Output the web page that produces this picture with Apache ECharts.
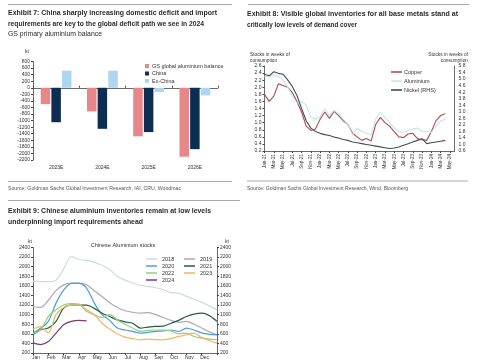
<!DOCTYPE html>
<html><head><meta charset="utf-8">
<script src="https://cdn.jsdelivr.net/npm/echarts@6/dist/echarts.min.js"></script>
<style>html,body{margin:0;padding:0;background:#fff}#c{width:485px;height:360px}</style>
</head><body><div id="c"></div>
<script>
// ---------- Exhibit 7 data ----------
const balCats = ['2023E', '2024E', '2025E', '2026E'];
const gsBalance = [-500, -720, -1480, -2100];
const chinaBalance = [-1050, -1250, -1350, -1870];
const exChinaBalance = [520, 520, -130, -230];

// ---------- Exhibit 8 data ----------
const invMonths = ['Jan-21','Feb-21','Mar-21','Apr-21','May-21','Jun-21','Jul-21','Aug-21','Sep-21','Oct-21','Nov-21','Dec-21',
  'Jan-22','Feb-22','Mar-22','Apr-22','May-22','Jun-22','Jul-22','Aug-22','Sep-22','Oct-22','Nov-22','Dec-22',
  'Jan-23','Feb-23','Mar-23','Apr-23','May-23','Jun-23','Jul-23','Aug-23','Sep-23','Oct-23','Nov-23','Dec-23',
  'Jan-24','Feb-24','Mar-24','Apr-24','May-24','Jun-24'];
const copper = [1.8,1.6,1.75,2.1,2.05,2.0,1.85,1.6,1.3,0.9,0.78,0.82,
  1.1,1.3,1.12,1.32,1.2,1.05,0.95,0.7,0.6,0.5,0.55,0.48,
  0.95,1.15,1.0,0.9,0.75,0.6,0.58,0.68,0.7,0.55,0.52,0.5,
  0.75,1.05,1.2,1.25];
const aluminium = [2.3,2.3,2.35,2.3,2.2,2.0,1.75,1.55,1.6,1.5,1.15,1.1,
  1.15,1.4,1.2,1.35,1.25,1.1,0.95,0.65,0.85,0.75,0.7,0.65,
  1.1,1.3,1.15,1.0,0.85,0.75,0.72,0.78,0.82,0.85,0.75,0.75,
  0.72,0.9,1.05,1.1];
const nickel = [5.3,5.2,5.45,5.35,5.3,4.95,4.55,4.0,3.2,2.45,2.0,1.8,
  1.68,1.6,1.55,1.45,1.4,1.3,1.25,1.15,1.1,1.05,1.0,0.95,
  0.9,0.85,0.8,0.75,0.78,0.85,0.95,1.05,1.15,1.25,1.35,1.05,
  1.1,1.15,1.2,1.25];

// ---------- Exhibit 9 data ----------
const monthNames = ['Jan','Feb','Mar','Apr','May','Jun','Jul','Aug','Sep','Oct','Nov','Dec'];
const stockPos = [0,0.5,1,1.5,2,2.5,3,3.5,4,4.5,5,5.5,6,6.5,7,7.5,8,8.5,9,9.5,10,10.5,11,11.5,12];
const s2018 = [1700,1690,1690,1720,1950,2210,2150,2130,2090,2030,1940,1800,1720,1660,1610,1590,1560,1520,1460,1450,1380,1320,1260,1180,1110];
const s2019 = [1170,1150,1300,1500,1620,1660,1660,1620,1500,1380,1250,1150,1080,1050,1030,1040,1000,940,880,840,860,800,720,640,580];
const s2020 = [610,720,860,1240,1510,1650,1650,1550,1240,1000,880,720,680,650,615,630,650,660,680,650,720,680,620,590,580];
const s2021 = [580,685,720,860,1135,1200,1200,1200,1130,1030,960,890,850,820,720,740,755,760,820,880,960,1010,1030,980,860];
const s2022 = [600,690,960,1100,1200,1230,1220,1065,1000,940,1000,890,800,720,650,670,680,680,660,600,615,545,510,490,480];
const s2023 = [700,750,620,1000,1150,1200,1200,1100,1000,820,700,600,530,500,475,490,480,475,500,545,580,615,520,460,400];
const s2024 = [410,375,440,615,790,860,880,870];
const yearNames = ['2018','2019','2020','2021','2022','2023','2024'];
const yearColors = ['#c9dde8','#b3a6ba','#4a9fd6','#1f5e4a','#93d07c','#f4b55e','#7c3a70'];

const FF = '"Liberation Sans", Arial, sans-serif';
const cv = document.createElement('canvas').getContext('2d');
function fitText(txt, x, y, size, weight, width, fill) {
  cv.font = weight + ' ' + size + 'px ' + FF;
  const w = cv.measureText(txt).width;
  return {type: 'text', x: x, y: y, scaleX: width / w, silent: true,
    style: {text: txt, fontSize: size, fontWeight: weight, fontFamily: FF, fill: fill, verticalAlign: 'middle'}};
}
function plainText(txt, x, y, size, fill, align) {
  return {type: 'text', x: x, y: y, silent: true,
    style: {text: txt, fontSize: size, fontFamily: FF, fill: fill, align: align || 'left', verticalAlign: 'middle', lineHeight: size + 1}};
}
function rule(x1, y, x2) {
  return {type: 'line', silent: true, shape: {x1: x1, y1: y + 0.5, x2: x2, y2: y + 0.5}, style: {stroke: '#a8a8a8', lineWidth: 1}};
}
const plainNum = v => String(Math.round(v));

const axisTxt = {fontSize: 5, color: '#333', fontFamily: FF};
const axLine = {show: true, lineStyle: {color: '#444', width: 0.8}};

const chart = echarts.init(document.getElementById('c'), null, {renderer: 'canvas'});

const ex9Series = [s2018, s2019, s2020, s2021, s2022, s2023, s2024].map((arr, i) => ({
  name: yearNames[i], type: 'line', xAxisIndex: 3, yAxisIndex: 3, symbol: 'none', smooth: 0.3,
  lineStyle: {width: 1.2, color: yearColors[i]}, itemStyle: {color: yearColors[i]},
  data: arr.map((v, j) => [stockPos[j], v])
}));

chart.setOption({
  animation: false,
  backgroundColor: '#fff',
  textStyle: {fontFamily: FF},
  grid: [
    {left: 33, top: 61.5, width: 185, height: 98.5},
    {left: 264.5, top: 66, width: 190, height: 85},
    {left: 33, top: 247.5, width: 184, height: 106}
  ],
  legend: [
    {orient: 'vertical', left: 140, top: 58, itemWidth: 4, itemHeight: 4, itemGap: 1.5, icon: 'rect',
      textStyle: {fontSize: 5.5, color: '#333', lineHeight: 6, padding: [0, 0, 0, -2]},
      data: ['GS global aluminium balance', 'China', 'Ex-China']},
    {orient: 'vertical', left: 386, top: 64, itemWidth: 11, itemHeight: 1.6, itemGap: 3, icon: 'rect',
      textStyle: {fontSize: 5.5, color: '#333', lineHeight: 6, padding: [0, 0, 0, -3]},
      data: ['Copper', 'Aluminium', 'Nickel (RHS)']},
    {orient: 'vertical', left: 141, top: 251, itemWidth: 11, itemHeight: 1.5, itemGap: 1, icon: 'rect',
      textStyle: {fontSize: 5.5, color: '#333', lineHeight: 6},
      data: ['2018', '2020', '2022', '2024']},
    {orient: 'vertical', left: 179, top: 251, itemWidth: 11, itemHeight: 1.5, itemGap: 1, icon: 'rect',
      textStyle: {fontSize: 5.5, color: '#333', lineHeight: 6},
      data: ['2019', '2021', '2023']}
  ],
  xAxis: [
    {gridIndex: 0, type: 'category', data: balCats, position: 'bottom',
      axisLine: {show: false, onZero: false}, axisTick: {show: false},
      axisLabel: Object.assign({margin: 5}, axisTxt)},
    {gridIndex: 0, type: 'category', data: balCats,
      axisLine: {show: true, onZero: true, lineStyle: {color: '#444', width: 0.8}},
      axisTick: {show: true, length: 2, lineStyle: {color: '#444'}}, axisLabel: {show: false}},
    {gridIndex: 1, type: 'category', data: invMonths, boundaryGap: false,
      axisLine: axLine, axisTick: {show: true, interval: 1, length: 2, lineStyle: {color: '#444'}},
      axisLabel: Object.assign({interval: 1, rotate: 90, margin: 3}, axisTxt, {fontSize: 4.6})},
    {gridIndex: 2, type: 'value', min: 0, max: 12, interval: 1,
      axisLine: axLine, axisTick: {show: true, length: 2, lineStyle: {color: '#444'}}, splitLine: {show: false},
      axisLabel: Object.assign({margin: 2, padding: [0, 0, 0, 6], formatter: v => monthNames[v] || ''}, axisTxt)}
  ],
  yAxis: [
    {gridIndex: 0, type: 'value', min: -2200, max: 800, interval: 200,
      axisLine: axLine, axisTick: {show: true, length: 2, lineStyle: {color: '#444'}}, splitLine: {show: false},
      axisLabel: Object.assign({margin: 3, formatter: plainNum}, axisTxt)},
    {gridIndex: 1, type: 'value', min: 0.2, max: 2.6, interval: 0.2,
      axisLine: axLine, axisTick: {show: true, length: 2, lineStyle: {color: '#444'}}, splitLine: {show: false},
      axisLabel: Object.assign({margin: 3, formatter: v => v.toFixed(1)}, axisTxt)},
    {gridIndex: 1, type: 'value', position: 'right', min: 0.6, max: 5.8, interval: 0.2,
      axisLine: axLine, axisTick: {show: false}, splitLine: {show: false},
      axisLabel: Object.assign({margin: 4, formatter: v => {
        const k = Math.round((v - 0.6) / 0.2); return k % 2 === 0 ? v.toFixed(1) : '';
      }}, axisTxt)},
    {gridIndex: 2, type: 'value', min: 200, max: 2400, interval: 200,
      axisLine: axLine, axisTick: {show: true, length: 2, lineStyle: {color: '#444'}}, splitLine: {show: false},
      axisLabel: Object.assign({margin: 3, formatter: plainNum}, axisTxt)},
    {gridIndex: 2, type: 'value', position: 'right', min: 200, max: 2400, interval: 200,
      axisLine: axLine, axisTick: {show: true, length: 2, lineStyle: {color: '#444'}}, splitLine: {show: false},
      axisLabel: Object.assign({margin: 3, formatter: plainNum}, axisTxt)}
  ],
  series: [
    {name: 'GS global aluminium balance', type: 'bar', xAxisIndex: 0, yAxisIndex: 0, data: gsBalance,
      barWidth: 9.5, barGap: '12%', itemStyle: {color: '#e8878a'}},
    {name: 'China', type: 'bar', xAxisIndex: 0, yAxisIndex: 0, data: chinaBalance,
      barWidth: 9.5, barGap: '12%', itemStyle: {color: '#0e2d52'}},
    {name: 'Ex-China', type: 'bar', xAxisIndex: 0, yAxisIndex: 0, data: exChinaBalance,
      barWidth: 9.5, barGap: '12%', itemStyle: {color: '#acd6f2'}},
    {name: 'Copper', type: 'line', xAxisIndex: 2, yAxisIndex: 1, data: copper, symbol: 'none',
      lineStyle: {width: 1.1, color: '#b24a4e'}, itemStyle: {color: '#b24a4e'}},
    {name: 'Aluminium', type: 'line', xAxisIndex: 2, yAxisIndex: 1, data: aluminium, symbol: 'none',
      lineStyle: {width: 1.1, color: '#c3e5ee'}, itemStyle: {color: '#c3e5ee'}},
    {name: 'Nickel (RHS)', type: 'line', xAxisIndex: 2, yAxisIndex: 2, data: nickel, symbol: 'none',
      lineStyle: {width: 1.1, color: '#3e4e5e'}, itemStyle: {color: '#3e4e5e'}}
  ].concat(ex9Series),
  graphic: [
    rule(8, 4, 232), rule(248, 4, 469),
    fitText('Exhibit 7: China sharply increasing domestic deficit and import', 8, 13.5, 7, 'bold', 209, '#2a2a2a'),
    fitText('requirements are key to the global deficit path we see in 2024', 8, 24, 7, 'bold', 196, '#2a2a2a'),
    fitText('GS primary aluminium balance', 8, 34, 6.5, 'normal', 94, '#2a2a2a'),
    plainText('kt', 25, 52, 5, '#333'),
    rule(8, 181, 232),
    fitText('Source: Goldman Sachs Global Investment Research, IAI, CRU, Woodmac', 8, 188, 5.5, 'normal', 173, '#555'),
    rule(8, 200, 240),
    fitText('Exhibit 8: Visible global inventories for all base metals stand at', 247, 14, 7, 'bold', 211, '#2a2a2a'),
    fitText('critically low levels of demand cover', 247, 24.7, 7, 'bold', 110, '#2a2a2a'),
    plainText('Stocks in weeks of\nconsumption', 250, 57.5, 4.8, '#333'),
    plainText('Stocks in weeks of\nconsumption', 468, 57.5, 4.8, '#333', 'right'),
    rule(247, 180.5, 468),
    fitText('Source: Goldman Sachs Global Investment Research, Wind, Bloomberg', 247, 188, 5.5, 'normal', 161, '#555'),
    fitText('Exhibit 9: Chinese aluminium inventories remain at low levels', 8, 211, 7, 'bold', 203, '#2a2a2a'),
    fitText('underpinning import requirements ahead', 8, 222, 7, 'bold', 135, '#2a2a2a'),
    plainText('kt', 28, 241.5, 5, '#333'),
    plainText('kt', 225, 241.5, 5, '#333'),
    plainText('Chinese Aluminium stocks', 123, 245, 5.5, '#333', 'center')
  ]
});
</script></body></html>
